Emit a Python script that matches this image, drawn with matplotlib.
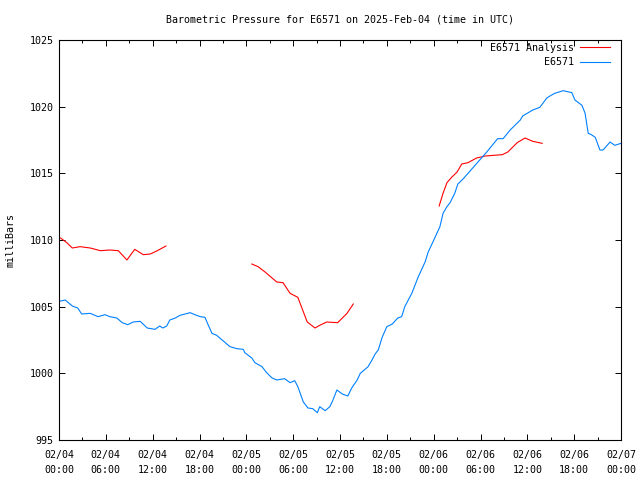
import numpy as np
import matplotlib
matplotlib.use("Agg")
import matplotlib.pyplot as plt
from matplotlib.ticker import MultipleLocator

# hours since 2025-02-04 00:00 UTC
obs_hours = [0.0, 0.8, 1.7, 2.4, 2.9, 4.0, 5.0, 5.9, 6.5, 7.4, 8.1, 8.8, 9.5, 10.4,
             11.3, 12.3, 12.9, 13.3, 13.8, 14.2, 14.9, 15.5, 16.8, 17.4, 18.1, 18.7,
             19.1, 19.6, 20.2, 21.0, 21.9, 22.8, 23.6, 23.8, 24.7, 25.1, 26.0, 26.6,
             27.3, 27.9, 28.9, 29.6, 30.2, 30.6, 31.3, 31.9, 32.5, 33.1, 33.4, 34.1,
             34.7, 35.1, 35.6, 36.3, 37.0, 37.5, 38.2, 38.6, 39.6, 40.1, 40.5, 40.9,
             41.4, 42.0, 42.7, 43.4, 43.9, 44.3, 45.2, 46.0, 46.9, 47.3, 47.9, 48.8,
             49.2, 49.7, 50.1, 50.7, 51.1, 51.8, 53.0, 54.2, 54.8, 56.2, 56.9, 57.8,
             59.1, 59.4, 60.7, 61.6, 62.5, 62.9, 63.5, 64.6, 65.7, 66.1, 67.0, 67.4,
             67.8, 68.2, 68.7, 69.3, 69.7, 70.6, 71.2, 72.0]
obs_mbar = [1005.4, 1005.5, 1005.05, 1004.9, 1004.45, 1004.5, 1004.25, 1004.4, 1004.25,
            1004.15, 1003.8, 1003.65, 1003.85, 1003.9, 1003.4, 1003.3, 1003.55, 1003.4,
            1003.55, 1004.0, 1004.15, 1004.35, 1004.55, 1004.4, 1004.25, 1004.2, 1003.65,
            1003.0, 1002.85, 1002.45, 1002.0, 1001.85, 1001.8, 1001.55, 1001.15, 1000.8,
            1000.5, 1000.05, 999.65, 999.5, 999.6, 999.3, 999.45, 999.0, 997.85, 997.4,
            997.35, 997.05, 997.5, 997.2, 997.5, 998.0, 998.75, 998.45, 998.3, 998.9,
            999.5, 1000.0, 1000.5, 1001.0, 1001.45, 1001.75, 1002.7, 1003.5, 1003.7,
            1004.15, 1004.25, 1005.0, 1006.0, 1007.2, 1008.35, 1009.1, 1009.85, 1011.0,
            1012.0, 1012.5, 1012.8, 1013.5, 1014.2, 1014.6, 1015.4, 1016.2, 1016.6,
            1017.6, 1017.6, 1018.25, 1019.0, 1019.3, 1019.75, 1019.95, 1020.65, 1020.8,
            1021.0, 1021.2, 1021.05, 1020.5, 1020.1, 1019.5, 1018.0, 1017.9, 1017.7,
            1016.75, 1016.75, 1017.35, 1017.1, 1017.25]

# analysis has gaps (nan)
ana_hours = [0.2, 1.0, 1.7, 2.7, 4.0, 5.3, 6.5, 7.6, 8.7, 9.7, 10.8, 11.7, 12.6, 13.7,
             19.0,
             24.7, 25.5, 26.4, 27.3, 27.9, 28.7, 29.6, 30.6, 31.8, 32.8, 33.4, 34.3,
             35.7, 36.9, 37.7,
             43.0,
             48.7, 49.2, 49.7, 50.3, 51.0, 51.6, 52.4, 53.5, 54.6, 56.8, 57.5, 58.7,
             59.7, 60.7, 61.9]
ana_mbar = [1010.15, 1009.8, 1009.4, 1009.5, 1009.4, 1009.2, 1009.25, 1009.2, 1008.5,
            1009.3, 1008.9, 1008.95, 1009.2, 1009.55,
            np.nan,
            1008.2, 1008.0, 1007.6, 1007.15, 1006.85, 1006.8, 1006.0, 1005.7, 1003.85,
            1003.4, 1003.6, 1003.85, 1003.8, 1004.5, 1005.2,
            np.nan,
            1012.55, 1013.5, 1014.3, 1014.7, 1015.1, 1015.7, 1015.8, 1016.15, 1016.3,
            1016.4, 1016.6, 1017.3, 1017.65, 1017.4, 1017.25]

tick_hours = list(range(0, 73, 6))
tick_labels = ["02/04\n00:00", "02/04\n06:00", "02/04\n12:00", "02/04\n18:00",
               "02/05\n00:00", "02/05\n06:00", "02/05\n12:00", "02/05\n18:00",
               "02/06\n00:00", "02/06\n06:00", "02/06\n12:00", "02/06\n18:00",
               "02/07\n00:00"]

plt.rcParams["font.family"] = ["DejaVu Sans Mono"]
plt.rcParams["font.size"] = 7.2

fig = plt.figure(figsize=(6.4, 4.8), dpi=100)
ax = fig.add_axes([59 / 640, 40 / 480, 562 / 640, 400 / 480])

ax.plot(ana_hours, ana_mbar, color="#ff0000", lw=0.8, label="E6571 Analysis")
ax.plot(obs_hours, obs_mbar, color="#0080ff", lw=0.8, label="E6571")

ax.set_xlim(0, 72)
ax.set_ylim(995, 1025)
ax.set_xticks(tick_hours)
ax.set_xticklabels(tick_labels, linespacing=1.6)
ax.xaxis.set_minor_locator(MultipleLocator(3))
ax.set_yticks(range(995, 1026, 5))
ax.tick_params(which="both", direction="in", top=True, right=True, width=0.7)
ax.tick_params(which="major", length=4.5, pad=4)
ax.tick_params(axis="x", which="major", pad=7.5)
ax.tick_params(which="minor", length=2.5)
for s in ax.spines.values():
    s.set_linewidth(0.8)

ax.set_ylabel("milliBars", labelpad=10)
fig.text(340 / 640, 1 - 20 / 480, "Barometric Pressure for E6571 on 2025-Feb-04 (time in UTC)",
         ha="center", va="center")

ax.legend(loc="upper right", bbox_to_anchor=(1 - 9 / 562, 1 - 1 / 400), frameon=False,
          markerfirst=False, handlelength=3.0, borderaxespad=0, borderpad=0.2,
          labelspacing=0.45, handletextpad=0.6)

fig.savefig("out.png", dpi=100)
